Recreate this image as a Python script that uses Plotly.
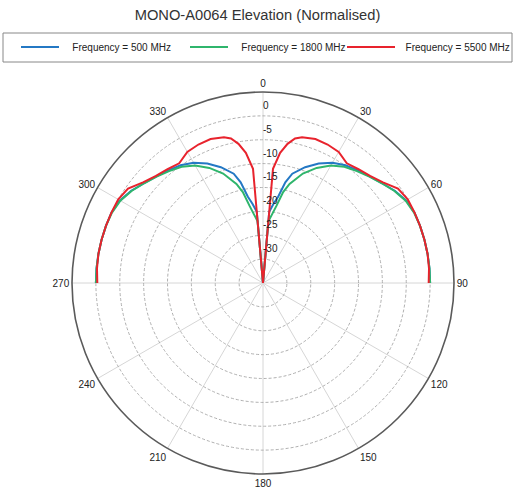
import plotly.graph_objects as go

# Elevation angle (deg) for the right half; the pattern is symmetric about 0°
theta_half = [0, 5, 7.5, 10, 12.5, 15, 20, 25, 30, 35, 40, 45, 50, 55, 60, 65, 70, 75, 80, 85, 90]

gain_500 = [-35, -20.0, -18.3, -16.6, -13.4, -11.3, -9.2, -7.4, -5.9, -4.9, -4.2, -3.4, -2.5, -1.3, -0.4, 0, 0, 0, 0, 0, 0]
gain_1800 = [-35, -22.0, -20.5, -18.5, -15.5, -13.5, -10.6, -8.4, -6.6, -5.3, -4.4, -3.5, -2.5, -1.4, -0.5, -0.1, 0, 0, 0, 0, 0]
gain_5500 = [-35, -11.0, -7.5, -5.4, -4.0, -3.4, -2.9, -3.0, -3.3, -4.4, -3.9, -3.3, -2.2, -0.5, 0, 0, 0, 0, 0, -0.1, -0.3]

series_names = ["Frequency = 500 MHz", "Frequency = 1800 MHz", "Frequency = 5500 MHz"]
series_colors = ["#2478c4", "#2fb56c", "#e8232d"]

radial_ticks = [-30, -25, -20, -15, -10, -5, 0]
angle_ticks = list(range(0, 360, 30))


def full(values):
    return list(reversed(values[1:])) + values


theta_full = [-t for t in reversed(theta_half[1:])] + theta_half

pads = ["\u00a0\u00a0\u00a0", "\u00a0\u00a0\u00a0", "\u00a0\u00a0"]
fig = go.Figure()
legends = ["legend", "legend2", "legend3"]
for name, vals, col, lg, pd in zip(series_names, [gain_500, gain_1800, gain_5500], series_colors, legends, pads):
    fig.add_trace(go.Scatterpolar(
        theta=theta_full, r=full(vals), mode="lines", name=pd + name,
        line=dict(color=col, width=2), legend=lg,
    ))

# radial tick labels drawn beside the 0° spoke, just above each ring
fig.add_trace(go.Scatterpolar(
    theta=[0] * len(radial_ticks), r=[v + 2.0 for v in radial_ticks],
    mode="text", text=[str(v) for v in radial_ticks], textposition="middle right",
    textfont=dict(family="Liberation Sans, Arial", size=10, color="#222"),
    showlegend=False, hoverinfo="skip",
))

W, H = 515, 490
cx, cy, R = 263, 283, 191
fig.update_layout(
    width=W, height=H,
    margin=dict(l=0, r=0, t=0, b=0),
    paper_bgcolor="white",
    font=dict(family="Liberation Sans, Arial", size=10, color="#222"),
    title=dict(text="MONO-A0064 Elevation (Normalised)", x=0.5, xanchor="center",
               y=1 - 15 / H, yanchor="middle",
               font=dict(family="Liberation Sans, Arial", size=14.7, color="#333")),
    polar=dict(
        domain=dict(x=[(cx - R) / W, (cx + R) / W], y=[(H - cy - R) / H, (H - cy + R) / H]),
        bgcolor="white",
        angularaxis=dict(rotation=90, direction="clockwise", tickvals=angle_ticks,
                         ticks="", showline=True, linecolor="#5a5a5a", linewidth=1.6,
                         gridcolor="#d6d6d6", gridwidth=1,
                         tickfont=dict(size=10, color="#222")),
        radialaxis=dict(range=[-35, 5], tickvals=radial_ticks, showticklabels=False,
                        ticks="", showline=False, angle=90,
                        gridcolor="#b0b0b0", gridwidth=1, griddash="3px,2px"),
    ),
    shapes=[dict(type="rect", xref="paper", yref="paper",
                 x0=3 / W, x1=512 / W, y0=1 - 62 / H, y1=1 - 33 / H,
                 line=dict(color="#888", width=1), fillcolor="rgba(0,0,0,0)")],
)
leg_x = [16 / W, 185 / W, 1.0]
leg_anchor = ["left", "left", "right"]
leg_w = [38, 38, 48]
for lg, lx, xa, iw in zip(legends, leg_x, leg_anchor, leg_w):
    fig.update_layout({lg: dict(x=lx, y=1 - 47 / H, xanchor=xa, yanchor="middle",
                                bgcolor="rgba(0,0,0,0)", borderwidth=0, itemwidth=iw,
                                orientation="h",
                                font=dict(family="Liberation Sans, Arial", size=10, color="#222"))})

fig.write_html("out.html", config={"displayModeBar": False},
               post_script="document.body.style.margin='0';")
